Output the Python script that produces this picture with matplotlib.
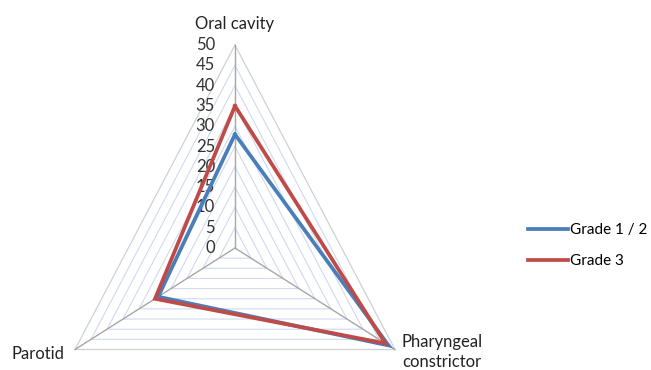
import numpy as np
import matplotlib.pyplot as plt

plt.rcParams['font.family'] = ['Lato', 'DejaVu Sans']

categories = ['Oral cavity', 'Pharyngeal\nconstrictor', 'Parotid']
grade12 = [28, 48, 24]
grade3 = [35, 47, 25]
series_names = ['Grade 1 / 2', 'Grade 3']
ticks = list(range(0, 55, 5))

# spokes: top, lower right, lower left
angles = np.radians([90, -30, 210])


def to_xy(values):
    v = np.asarray(values, dtype=float)
    x = v * np.cos(angles)
    y = v * np.sin(angles)
    return np.append(x, x[0]), np.append(y, y[0])


fig = plt.figure(figsize=(6.51, 3.70), dpi=100)
ax = fig.add_axes([0, 0, 1, 1])
ax.set_xlim(-63.6, 112.6)
ax.set_ylim(-30.05, 61.1)
ax.axis('off')

# concentric grid triangles
for t in ticks[1:-1]:
    gx, gy = to_xy([t] * 3)
    ax.plot(gx, gy, color='#cfdaee', lw=0.8, zorder=1)
ox, oy = to_xy([ticks[-1]] * 3)
ax.plot(ox, oy, color='#cdd1d6', lw=0.9, zorder=1)

# spokes
for a in angles:
    ax.plot([0, ticks[-1] * np.cos(a)], [0, ticks[-1] * np.sin(a)],
            color='#a6a6a6', lw=1.0, zorder=2)

# value labels up the top spoke
for t in ticks:
    ax.text(-5.4, t, str(t), ha='right', va='center', fontsize=12,
            color='#333333')

colors = ['#4a7ebb', '#be4b48']
for vals, name, c in zip([grade12, grade3], series_names, colors):
    sx, sy = to_xy(vals)
    ax.plot(sx, sy, color=c, lw=2.7, label=name, zorder=3,
            solid_joinstyle='miter')

# category labels
r = ticks[-1]
ax.text(0, r + 5.3, categories[0], ha='center', va='center',
        fontsize=12, color='#222222')
ax.text(r * np.cos(angles[1]) + 1.9, r * np.sin(angles[1]) - 0.7,
        categories[1], ha='left', va='center', fontsize=12,
        color='#222222', linespacing=1.3)
ax.text(r * np.cos(angles[2]) - 3.0, r * np.sin(angles[2]) - 1.2,
        categories[2], ha='right', va='center', fontsize=12,
        color='#222222')

ax.legend(loc='center left', bbox_to_anchor=(528 / 651, 0.336),
          frameon=False, borderpad=0, borderaxespad=0,
          fontsize=11, handlelength=2.6, handletextpad=0.15,
          labelspacing=1.1)

fig.savefig('out.png', dpi=100)
